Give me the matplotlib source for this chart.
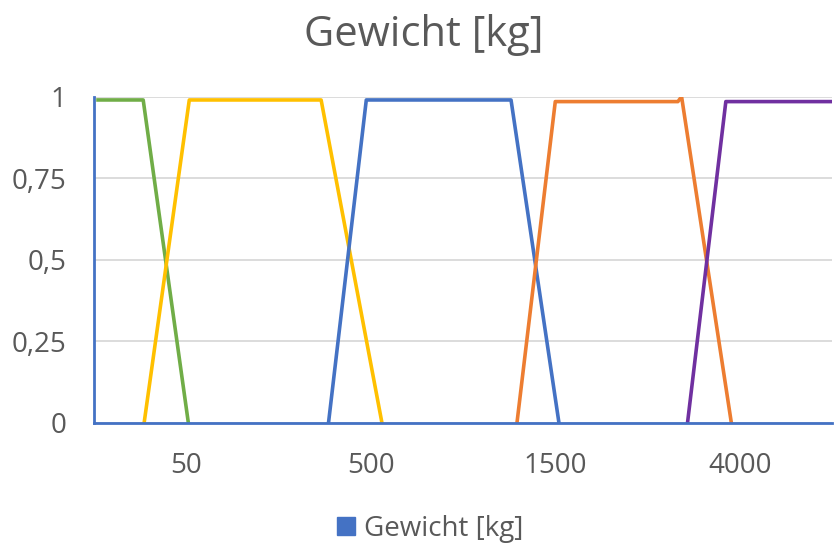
import matplotlib
matplotlib.use("Agg")
from matplotlib import pyplot as plt
from matplotlib.patches import Patch

###* DATA
# x positions on a 0..8 axis, category labels sit on odd positions
tick_pos = [1, 3, 5, 7]
tick_labels = ["50", "500", "1500", "4000"]
y_ticks = [0, 0.25, 0.5, 0.75, 1]
y_labels = ["0", "0,25", "0,5", "0,75", "1"]

green_x = [0.04, 0.53, 1.02]
green_y = [0.99, 0.99, 0]
yellow_x = [0.54, 1.03, 2.46, 3.12]
yellow_y = [0, 0.99, 0.99, 0]
blue_x = [2.54, 2.95, 4.52, 5.04]
blue_y = [0, 0.99, 0.99, 0]
orange_x = [4.58, 5.00, 6.33, 6.37, 6.91]
orange_y = [-0.01, 0.985, 0.985, 1.0, 0]
purple_x = [6.43, 6.85, 8.1]
purple_y = [-0.01, 0.985, 0.985]

###* STYLE
plt.rcParams["font.family"] = ["Open Sans", "DejaVu Sans"]
TXT = "#595959"
BLUE, ORANGE, YELLOW, GREEN, PURPLE = "#4472C4", "#ED7D31", "#FFC000", "#70AD47", "#7030A0"

fig = plt.figure(figsize=(8.4, 5.46), dpi=100)
ax = fig.add_axes([0.1123, 0.2253, 0.8780, 0.5976])

for xs, ys, c in [(green_x, green_y, GREEN), (yellow_x, yellow_y, YELLOW),
                  (blue_x, blue_y, BLUE), (orange_x, orange_y, ORANGE),
                  (purple_x, purple_y, PURPLE)]:
    ax.plot(xs, ys, color=c, lw=2.6, clip_on=True, zorder=3)

ax.set_xlim(0, 8)
ax.set_ylim(0, 1)
ax.set_xticks(tick_pos, tick_labels)
ax.set_yticks(y_ticks, y_labels)
ax.tick_params(length=0, labelsize=20, colors=TXT)
ax.tick_params(axis="y", pad=20)
ax.tick_params(axis="x", pad=21)
ax.grid(axis="y", color="#D9D9D9", lw=1.3)
ax.set_axisbelow(True)
for s in ["top", "right"]:
    ax.spines[s].set_visible(False)
for s in ["left", "bottom"]:
    ax.spines[s].set_color(BLUE)
    ax.spines[s].set_linewidth(2)
    ax.spines[s].set_zorder(4)

fig.text(0.505, 0.935, "Gewicht [kg]", ha="center", va="center", fontsize=30, color=TXT)
fig.legend(handles=[Patch(color=BLUE, label="Gewicht [kg]")], loc="center",
           bbox_to_anchor=(0.512, 0.032), frameon=False, fontsize=20,
           labelcolor=TXT, handlelength=0.65, handleheight=0.65, handletextpad=0.3)

fig.savefig("out.png", dpi=100)
